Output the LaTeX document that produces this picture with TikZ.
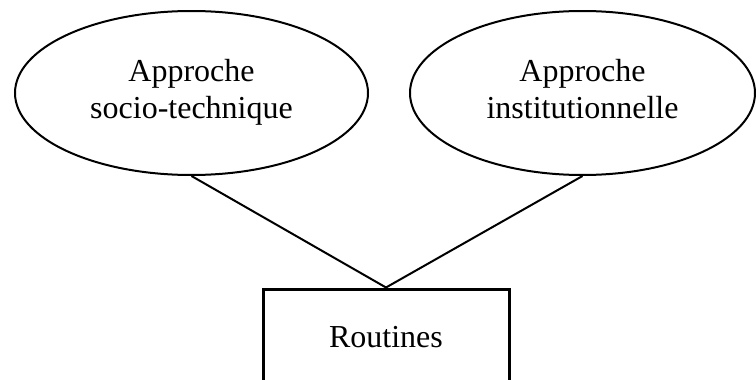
\documentclass[tikz,border=0pt]{standalone}
\usepackage{fontspec}
\setmainfont{Liberation Serif}
\usetikzlibrary{shapes.geometric}

\begin{document}
\begin{tikzpicture}[x=1pt,y=-1pt,
  approche/.style={ellipse,draw,line width=2pt,inner sep=0pt,minimum width=353pt,minimum height=164pt,align=center},
  routinebox/.style={rectangle,draw,line width=3pt,inner sep=0pt,minimum width=246pt,minimum height=96pt},
  lien/.style={line width=2pt}]
\useasboundingbox (0,0) rectangle (756,380);
\fontsize{32}{37}\selectfont
\node [approche] (socio) at (191.5,93) {\strut Approche\\socio-technique\strut};
\node [approche,minimum width=345pt] (institut) at (582.5,93) {\strut Approche\\institutionnelle\strut};
\node [routinebox] (routines) at (386,337) {Routines};
\draw [lien] (socio.south) -- (routines.north);
\draw [lien] (institut.south) -- (routines.north);
\end{tikzpicture}
\end{document}
